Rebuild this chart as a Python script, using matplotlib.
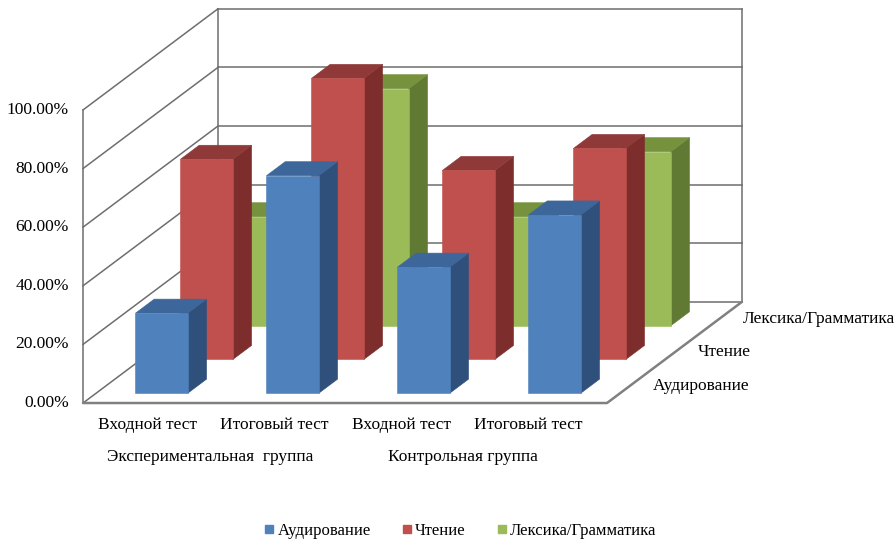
import matplotlib.pyplot as plt
from matplotlib.patches import Polygon
from matplotlib.lines import Line2D

groups = ['Экспериментальная  группа', 'Контрольная группа']
categories = ['Входной тест', 'Итоговый тест', 'Входной тест', 'Итоговый тест']
series = ['Аудирование', 'Чтение', 'Лексика/Грамматика']
audirovanie = [27.3, 74.2, 43.0, 60.8]
chtenie = [68.3, 95.9, 64.5, 72.0]
leksika = [37.2, 80.9, 37.2, 59.4]
yticks = [0, 20, 40, 60, 80, 100]

values = [audirovanie, chtenie, leksika]
faces = {
    'front': ['#4F81BD', '#C0504D', '#9BBB59'],
    'top': ['#3D679B', '#8F3A38', '#76923C'],
    'side': ['#30507C', '#7C2D2C', '#617A33'],
}

plt.rcParams['font.family'] = ['Liberation Serif', 'DejaVu Serif']

# oblique projection: x in category units, depth 0..1, z in fraction of 100 %
DX, DY = 1.03, 0.345


def proj(x, d, z):
    return x + d * DX, z + d * DY


fig = plt.figure(figsize=(8.94, 5.44), dpi=100)
ax = fig.add_axes([0, 0, 1, 1])
ax.set_xlim(-0.634, 6.191)
ax.set_ylim(-0.481, 1.375)
ax.axis('off')

n = len(categories)
grid_kw = dict(color='#6E6E6E', lw=1.1, zorder=1)

# walls and gridlines
for v in yticks:
    z = v / 100
    (x0, y0), (x1, y1) = proj(0, 0, z), proj(0, 1, z)
    ax.plot([x0, x1], [y0, y1], **grid_kw)
    (x2, y2) = proj(n, 1, z)
    ax.plot([x1, x2], [y1, y2], **grid_kw)
    ax.text(-0.11, z, f'{v:.2f}%', ha='right', va='center', fontsize=12.5)
for x, d in [(0, 0), (0, 1), (n, 1)]:
    (xa, ya), (xb, yb) = proj(x, d, 0), proj(x, d, 1)
    ax.plot([xa, xb], [ya, yb], **grid_kw)
# floor edges
(xa, ya), (xb, yb), (xc, yc) = proj(0, 0, 0), proj(n, 0, 0), proj(n, 1, 0)
ax.plot([xa, xb, xc], [ya, yb, yc], color='#808080', lw=1.8, zorder=1,
        solid_capstyle='round')

# bars, back row first
half_w, half_d = 0.2, 0.0695
for r in reversed(range(len(series))):
    dc = (r + 0.5) / 3
    d0, d1 = dc - half_d, dc + half_d
    for i, val in enumerate(values[r]):
        z = val / 100
        x0, x1 = i + 0.5 - half_w, i + 0.5 + half_w
        front = [proj(x0, d0, 0), proj(x1, d0, 0), proj(x1, d0, z), proj(x0, d0, z)]
        top = [proj(x0, d0, z), proj(x1, d0, z), proj(x1, d1, z), proj(x0, d1, z)]
        side = [proj(x1, d0, 0), proj(x1, d1, 0), proj(x1, d1, z), proj(x1, d0, z)]
        for pts, key in [(side, 'side'), (top, 'top'), (front, 'front')]:
            c = faces[key][r]
            ax.add_patch(Polygon(pts, closed=True, facecolor=c, edgecolor=c,
                                 lw=0.4, zorder=2))

# category and group labels
for i, lab in enumerate(categories):
    ax.text(0.49 + 0.97 * i, -0.075, lab, ha='center', va='center', fontsize=12.5)
for gx, lab in zip([0.97, 2.90], groups):
    ax.text(gx, -0.185, lab, ha='center', va='center', fontsize=12.5)

# series labels along the depth axis
for r, lab in enumerate(series):
    ex, ey = proj(n, (r + 0.5) / 3, 0)
    ax.text(ex + 0.18, ey, lab, ha='left', va='center', fontsize=12.5)

handles = [Line2D([], [], ls='none', marker='s', markersize=6,
                  color=c) for c in faces['front']]
fig.legend(handles, series, loc='center', bbox_to_anchor=(0.515, 0.024),
           ncol=3, frameon=False, fontsize=12, handlelength=0.55,
           handletextpad=0.2, columnspacing=1.9, borderpad=0.1)

fig.savefig('out.png', dpi=100)
